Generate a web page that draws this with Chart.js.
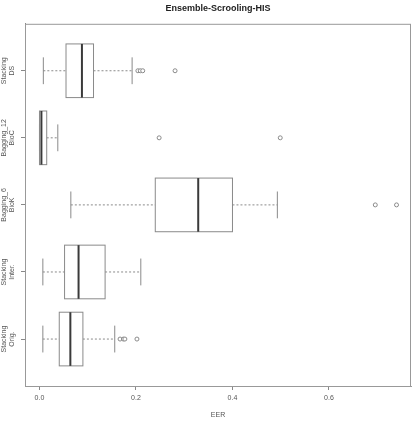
<!DOCTYPE html>
<html>
<head>
<meta charset="utf-8">
<script src="https://cdn.jsdelivr.net/npm/chart.js@4.4.0/dist/chart.umd.min.js"></script>
<style>
	html, body { margin: 0; padding: 0; background: #fff; }
	#wrap { width: 414px; height: 428px; }
</style>
</head>
<body>
<div id="wrap"><canvas id="eer"></canvas></div>
<script>
// groups listed from top to bottom of the plot
const groups = [['Stacking', 'DS'], ['Bagging_12', 'BioC'], ['Bagging_6', 'BioK'], ['Stacking', 'Inter.'], ['Stacking', 'Orig.']];
const whiskerLow = [0.008, 0.0, 0.065, 0.007, 0.007];
const q1 = [0.055, 0.0, 0.240, 0.052, 0.041];
const medians = [0.088, 0.004, 0.329, 0.081, 0.064];
const q3 = [0.112, 0.015, 0.400, 0.136, 0.090];
const whiskerHigh = [0.192, 0.038, 0.493, 0.210, 0.156];
const outliers = [[0.204, 0.209, 0.214, 0.281], [0.248, 0.499], [0.696, 0.740], [], [0.167, 0.174, 0.177, 0.202]];
const xTicks = [0.0, 0.2, 0.4, 0.6];

const n = groups.length;
const posOf = function(i){ return n - i; };

let outlierPoints = [];
outliers.forEach(function(list, i){
	list.forEach(function(v){ outlierPoints.push({x: v, y: posOf(i)}); });
});

const lineGray = '#8a8a8a';

const boxPlugin = {
	id: 'boxes',
	beforeDatasetsDraw: function(chart){
		const ctx = chart.ctx;
		const xs = chart.scales.x, ys = chart.scales.y;
		const half = Math.abs(ys.getPixelForValue(0.4) - ys.getPixelForValue(0));
		const staple = half / 2;
		ctx.save();
		for (let i = 0; i < n; i++) {
			const yc = ys.getPixelForValue(posOf(i));
			const xlo = xs.getPixelForValue(whiskerLow[i]);
			const x1 = xs.getPixelForValue(q1[i]);
			const xm = xs.getPixelForValue(medians[i]);
			const x3 = xs.getPixelForValue(q3[i]);
			const xhi = xs.getPixelForValue(whiskerHigh[i]);
			// whiskers
			ctx.strokeStyle = lineGray;
			ctx.lineWidth = 1;
			ctx.setLineDash([2, 2]);
			ctx.beginPath();
			ctx.moveTo(xlo, yc); ctx.lineTo(x1, yc);
			ctx.moveTo(x3, yc); ctx.lineTo(xhi, yc);
			ctx.stroke();
			ctx.setLineDash([]);
			// staples
			ctx.beginPath();
			ctx.moveTo(xlo, yc - staple); ctx.lineTo(xlo, yc + staple);
			ctx.moveTo(xhi, yc - staple); ctx.lineTo(xhi, yc + staple);
			ctx.stroke();
			// box
			ctx.fillStyle = '#fff';
			ctx.fillRect(x1, yc - half, x3 - x1, 2 * half);
			ctx.strokeRect(x1, yc - half, x3 - x1, 2 * half);
			// median
			ctx.strokeStyle = '#3a3a3a';
			ctx.lineWidth = 2;
			ctx.beginPath();
			ctx.moveTo(xm, yc - half); ctx.lineTo(xm, yc + half);
			ctx.stroke();
		}
		ctx.restore();
	},
	afterDraw: function(chart){
		const ctx = chart.ctx;
		const a = chart.chartArea;
		const ys = chart.scales.y;
		ctx.save();
		ctx.strokeStyle = '#999';
		ctx.lineWidth = 1;
		ctx.strokeRect(a.left + 0.5, a.top + 0.5, a.right - a.left - 1, a.bottom - a.top);
		// group labels, rotated as in R
		ctx.fillStyle = '#555';
		ctx.font = '7px "Liberation Sans", Arial, sans-serif';
		ctx.textAlign = 'center';
		ctx.textBaseline = 'middle';
		for (let i = 0; i < n; i++) {
			const yc = ys.getPixelForValue(posOf(i));
			ctx.save();
			ctx.translate(8.3, yc);
			ctx.rotate(-Math.PI / 2);
			ctx.fillText(groups[i][0], 0, -3.8);
			ctx.fillText(groups[i][1], 0, 3.8);
			ctx.restore();
		}
		ctx.restore();
	}
};

new Chart(document.getElementById('eer'), {
	type: 'scatter',
	data: {
		datasets: [{
			label: 'outliers',
			data: outlierPoints,
			pointStyle: 'circle',
			pointRadius: 2,
			pointHoverRadius: 2,
			pointBorderWidth: 1,
			borderColor: lineGray,
			backgroundColor: '#fff'
		}]
	},
	plugins: [boxPlugin],
	options: {
		responsive: true,
		maintainAspectRatio: false,
		animation: false,
		layout: { padding: { top: 2, right: 2, left: 0, bottom: 0 } },
		plugins: {
			legend: { display: false },
			tooltip: { enabled: false },
			title: {
				display: true,
				text: 'Ensemble-Scrooling-HIS',
				fullSize: false,
				color: '#222',
				font: { size: 9, weight: 'bold', family: '"Liberation Sans", Arial, sans-serif' },
				padding: { top: 1, bottom: 10 }
			}
		},
		scales: {
			x: {
				type: 'linear',
				min: -0.03,
				max: 0.77,
				afterBuildTicks: function(scale){ scale.ticks = xTicks.map(function(v){ return {value: v}; }); },
				afterFit: function(scale){ scale.height = 42; },
				grid: { drawOnChartArea: false, drawTicks: true, tickLength: 4, color: '#888' },
				border: { display: true, color: '#999' },
				ticks: {
					color: '#555',
					padding: 4,
					font: { size: 7, family: '"Liberation Sans", Arial, sans-serif' },
					callback: function(v){ return v.toFixed(1); }
				},
				title: {
					display: true,
					text: 'EER',
					color: '#555',
					font: { size: 7, family: '"Liberation Sans", Arial, sans-serif' },
					padding: { top: 0, bottom: 9 }
				}
			},
			y: {
				type: 'linear',
				min: 0.3,
				max: 5.7,
				afterBuildTicks: function(scale){ scale.ticks = groups.map(function(g, i){ return {value: posOf(i)}; }); },
				afterFit: function(scale){ scale.width = 25; },
				grid: { drawOnChartArea: false, drawTicks: true, tickLength: 4, color: '#888' },
				border: { display: true, color: '#888' },
				ticks: { display: false }
			}
		}
	}
});
</script>
</body>
</html>
